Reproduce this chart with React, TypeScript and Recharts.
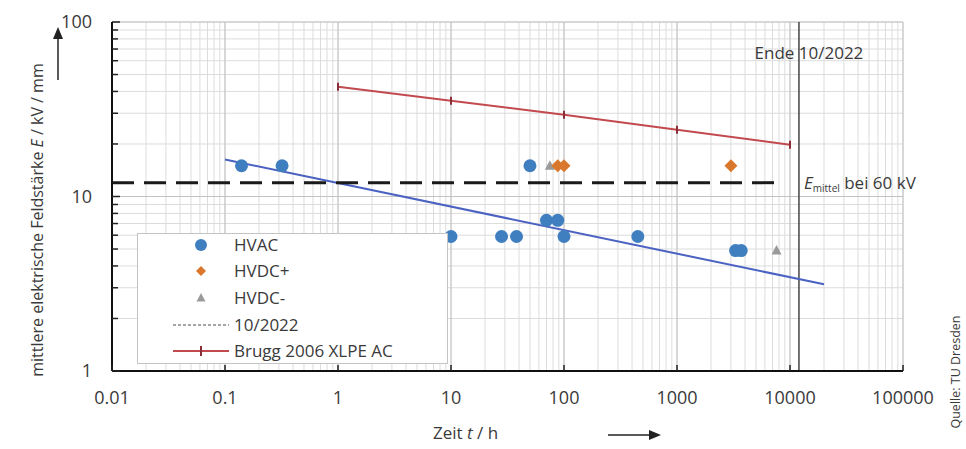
import React from "react";
import {
  ComposedChart,
  XAxis,
  YAxis,
  CartesianGrid,
  Scatter,
  Line,
  ReferenceLine,
  ReferenceDot,
} from "recharts";

// ---- axis ticks ----
const xTicks = [
  0.01, 0.02, 0.03, 0.04, 0.05, 0.06, 0.07, 0.08, 0.09,
  0.1, 0.2, 0.3, 0.4, 0.5, 0.6, 0.7, 0.8, 0.9,
  1, 2, 3, 4, 5, 6, 7, 8, 9,
  10, 20, 30, 40, 50, 60, 70, 80, 90,
  100, 200, 300, 400, 500, 600, 700, 800, 900,
  1000, 2000, 3000, 4000, 5000, 6000, 7000, 8000, 9000,
  10000, 20000, 30000, 40000, 50000, 60000, 70000, 80000, 90000,
  100000,
];
const xMajor = [0.01, 0.1, 1, 10, 100, 1000, 10000, 100000];
const xLabels = ["0.01", "0.1", "1", "10", "100", "1000", "10000", "100000"];
const yTicks = [
  1, 2, 3, 4, 5, 6, 7, 8, 9,
  10, 20, 30, 40, 50, 60, 70, 80, 90,
  100,
];
const yMajor = [1, 10, 100];
const yLabels = ["1", "10", "100"];

// ---- series ----
const hvacTime = [0.14, 0.32, 50, 70, 88, 10, 28, 38, 100, 450, 3300, 3700];
const hvacField = [15, 15, 15, 7.3, 7.3, 5.9, 5.9, 5.9, 5.9, 5.9, 4.9, 4.9];
const hvdcPlusTime = [88, 100, 3000];
const hvdcPlusField = [15, 15, 15];
const hvdcMinusTime = [75, 7600];
const hvdcMinusField = [15, 4.9];
const bruggTime = [1, 10, 100, 1000, 10000];
const bruggField = [42.5, 35.4, 29.4, 24.1, 19.8];
const trendTime = [0.1, 20000];
const trendField = [16.3, 3.14];
const mittelTime = [0.01, 8000];
const mittelField = [12, 12];
const endTime = 12000;

const seriesNames = ["HVAC", "HVDC+", "HVDC-", "10/2022", "Brugg 2006 XLPE AC"];

const zip = (t: number[], e: number[]) => t.map((v, i) => ({ t: v, e: e[i] }));
const hvacData = zip(hvacTime, hvacField);
const plusData = zip(hvdcPlusTime, hvdcPlusField);
const minusData = zip(hvdcMinusTime, hvdcMinusField);
const bruggData = zip(bruggTime, bruggField);
const trendData = zip(trendTime, trendField);
const mittelData = zip(mittelTime, mittelField);

const FONT = "'Open Sans', 'DejaVu Sans', sans-serif";
const TXT = "#3a3a3a";
const BLUE = "#3f7fc0";
const ORANGE = "#d9782c";
const GRAY = "#9a9a9a";
const RED = "#c24a4e";
const TREND = "#4b62c2";

const YTick = (props: any) => {
  const { x, y, payload } = props;
  const idx = yMajor.indexOf(payload.value);
  const major = idx >= 0;
  return (
    <g>
      <line x1={x} x2={x + (major ? 8 : 6)} y1={y} y2={y} stroke="#222" strokeWidth={1.5} />
      {major && (
        <text x={x - 20} y={y} dy="0.36em" textAnchor="end" fontSize={18} fill={TXT} fontFamily={FONT}>
          {yLabels[idx]}
        </text>
      )}
    </g>
  );
};

const XTick = (props: any) => {
  const { x, y, payload } = props;
  const idx = xMajor.indexOf(payload.value);
  if (idx < 0) return <g />;
  return (
    <g>
      <line x1={x} x2={x} y1={y} y2={y - 6} stroke="#222" strokeWidth={1.5} />
      <text x={x} y={y + 27} dy="0.36em" textAnchor="middle" fontSize={18} fill={TXT} fontFamily={FONT}>
        {xLabels[idx]}
      </text>
    </g>
  );
};

const circleShape = (p: any) => <circle cx={p.cx} cy={p.cy} r={6.5} fill={BLUE} />;
const diamondShape = (p: any) => (
  <polygon
    points={`${p.cx},${p.cy - 6.5} ${p.cx + 6.5},${p.cy} ${p.cx},${p.cy + 6.5} ${p.cx - 6.5},${p.cy}`}
    fill={ORANGE}
  />
);
const triangleShape = (p: any) => (
  <polygon points={`${p.cx},${p.cy - 5.5} ${p.cx + 5},${p.cy + 4} ${p.cx - 5},${p.cy + 4}`} fill={GRAY} />
);

const bruggDot = (p: any) => (
  <line key={`bd${p.index}`} x1={p.cx} x2={p.cx} y1={p.cy - 4} y2={p.cy + 4} stroke="#8a2f38" strokeWidth={2} />
);

const yAxisLabel = () => (
  <g>
    <text
      x={37}
      y={220}
      transform="rotate(-90, 37, 220)"
      textAnchor="middle"
      dy="0.35em"
      fontSize={16}
      fill={TXT}
      fontFamily={FONT}
    >
      mittlere elektrische Feldstärke <tspan fontStyle="italic">E</tspan> / kV / mm
    </text>
    <line x1={58} x2={58} y1={80} y2={38} stroke="#222" strokeWidth={1.5} />
    <polygon points="58,27 53,39 63,39" fill="#222" />
  </g>
);

const xAxisLabel = () => (
  <g>
    <text x={433} y={433} dy="0.35em" fontSize={17} fill={TXT} fontFamily={FONT}>
      Zeit <tspan fontStyle="italic">t</tspan> / h
    </text>
    <line x1={608} x2={650} y1={435} y2={435} stroke="#222" strokeWidth={1.5} />
    <polygon points="661,435 649,430 649,440" fill="#222" />
  </g>
);

const endLabel = (props: any) => {
  const vb = props.viewBox || {};
  return (
    <text x={vb.x + 10} y={vb.y + 31} dy="0.35em" textAnchor="middle" fontSize={17} fill={TXT} fontFamily={FONT}>
      Ende 10/2022
    </text>
  );
};

const mittelLabel = (props: any) => {
  const vb = props.viewBox || {};
  const cx = vb.x + (vb.width || 0) / 2;
  const cy = vb.y + (vb.height || 0) / 2;
  return (
    <text x={cx + 5} y={cy} dy="0.35em" fontSize={17} fill={TXT} fontFamily={FONT}>
      <tspan fontStyle="italic">E</tspan>
      <tspan fontSize={10} dy="3">mittel</tspan>
      <tspan dy="-3"> bei 60 kV</tspan>
    </text>
  );
};

const Legend = () => {
  const rows = [11, 37, 64, 91, 117];
  const mx = 63;
  const tx = 96;
  return (
    <div
      style={{
        position: "absolute",
        left: 137,
        top: 233,
        width: 309,
        height: 129,
        background: "#fff",
        border: "1px solid #c4c4c4",
      }}
    >
      <svg width={309} height={129} style={{ display: "block" }}>
        <circle cx={mx} cy={rows[0]} r={6} fill={BLUE} />
        <polygon
          points={`${mx},${rows[1] - 5} ${mx + 5},${rows[1]} ${mx},${rows[1] + 5} ${mx - 5},${rows[1]}`}
          fill={ORANGE}
        />
        <polygon points={`${mx},${rows[2] - 5} ${mx + 4.5},${rows[2] + 3.5} ${mx - 4.5},${rows[2] + 3.5}`} fill={GRAY} />
        <line x1={35} x2={91} y1={rows[3]} y2={rows[3]} stroke="#888" strokeWidth={1.5} strokeDasharray="3 2" />
        <line x1={35} x2={91} y1={rows[4]} y2={rows[4]} stroke={RED} strokeWidth={2} />
        <line x1={mx} x2={mx} y1={rows[4] - 5} y2={rows[4] + 5} stroke="#8a2f38" strokeWidth={2} />
        {seriesNames.map((n, i) => (
          <text key={n} x={tx} y={rows[i]} dy="0.36em" fontSize={17} fill={TXT} fontFamily={FONT}>
            {n}
          </text>
        ))}
      </svg>
    </div>
  );
};

export default function App() {
  return (
    <div style={{ position: "absolute", left: 0, top: 0, width: 966, height: 449, background: "#fff" }}>
      <ComposedChart width={966} height={449} margin={{ top: 22, right: 63, left: 0, bottom: 0 }}>
        <CartesianGrid stroke="#dcdcdc" strokeWidth={1} />
        {xMajor.map((v) => (
          <ReferenceLine key={`gx${v}`} x={v} stroke="#c2c2c2" strokeWidth={1} ifOverflow="extendDomain" />
        ))}
        {yMajor.map((v) => (
          <ReferenceLine key={`gy${v}`} y={v} stroke="#c2c2c2" strokeWidth={1} ifOverflow="extendDomain" />
        ))}
        <XAxis
          dataKey="t"
          type="number"
          scale="log"
          domain={[0.01, 100000]}
          ticks={xTicks}
          interval={0}
          allowDataOverflow
          tickSize={0}
          tickMargin={0}
          tick={<XTick />}
          tickLine={false}
          axisLine={{ stroke: "#111", strokeWidth: 2 }}
          height={78}
          label={xAxisLabel}
        />
        <YAxis
          dataKey="e"
          type="number"
          scale="log"
          domain={[1, 100]}
          ticks={yTicks}
          interval={0}
          allowDataOverflow
          tickSize={0}
          tickMargin={0}
          tick={<YTick />}
          tickLine={false}
          axisLine={{ stroke: "#111", strokeWidth: 2 }}
          width={112}
          label={yAxisLabel}
        />
        <ReferenceLine x={endTime} stroke="#444" strokeWidth={1.5} label={endLabel} />
        <Line
          data={bruggData}
          dataKey="e"
          stroke={RED}
          strokeWidth={2}
          dot={bruggDot}
          activeDot={false}
          isAnimationActive={false}
          legendType="none"
        />
        <Line
          data={trendData}
          dataKey="e"
          stroke={TREND}
          strokeWidth={2}
          dot={false}
          activeDot={false}
          isAnimationActive={false}
        />
        <Line
          data={mittelData}
          dataKey="e"
          stroke="#1a1a1a"
          strokeWidth={3}
          strokeDasharray="22 10"
          dot={false}
          activeDot={false}
          isAnimationActive={false}
        />
        <ReferenceDot x={endTime} y={12} r={1} fill="none" stroke="none" label={mittelLabel} />
        <Scatter data={hvacData} dataKey="e" shape={circleShape} isAnimationActive={false} />
        <Scatter data={minusData} dataKey="e" shape={triangleShape} isAnimationActive={false} />
        <Scatter data={plusData} dataKey="e" shape={diamondShape} isAnimationActive={false} />
      </ComposedChart>
      <Legend />
      <svg width={966} height={449} style={{ position: "absolute", left: 0, top: 0, pointerEvents: "none" }}>
        <text
          x={956}
          y={372}
          transform="rotate(-90, 956, 372)"
          textAnchor="middle"
          dy="0.35em"
          fontSize={12.5}
          fill={TXT}
          fontFamily={FONT}
        >
          Quelle: TU Dresden
        </text>
      </svg>
    </div>
  );
}
